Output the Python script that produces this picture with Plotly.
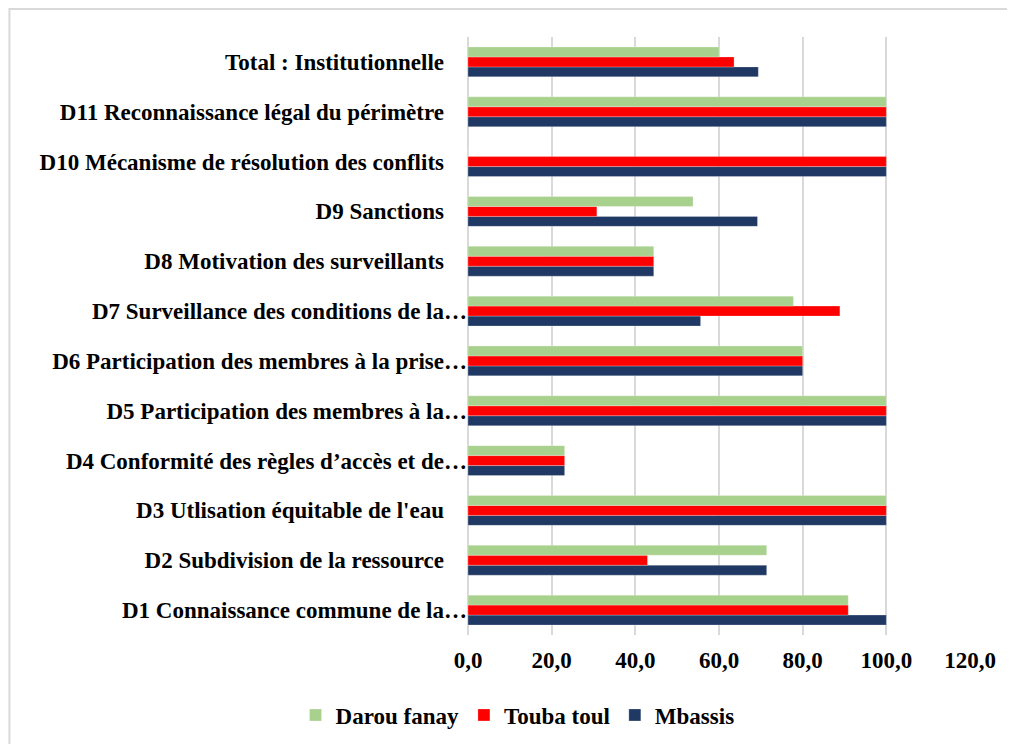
import plotly.graph_objects as go

categories = [
    "D1 Connaissance commune de la…",
    "D2 Subdivision de la ressource",
    "D3 Utlisation équitable de l'eau",
    "D4 Conformité des règles d’accès et de…",
    "D5 Participation des membres à la…",
    "D6 Participation des membres à la prise…",
    "D7 Surveillance des conditions de la…",
    "D8 Motivation des surveillants",
    "D9 Sanctions",
    "D10 Mécanisme de résolution des conflits",
    "D11 Reconnaissance légal du périmètre",
    "Total : Institutionnelle",
]
darou_fanay = [90.9, 71.4, 100, 23.1, 100, 80, 77.8, 44.4, 53.8, 0, 100, 60.0]
touba_toul = [90.9, 42.9, 100, 23.1, 100, 80, 88.9, 44.4, 30.8, 100, 100, 63.6]
mbassis = [100, 71.4, 100, 23.1, 100, 80, 55.6, 44.4, 69.2, 100, 100, 69.4]
x_ticks = [0, 20, 40, 60, 80, 100, 120]
x_tick_labels = ["0,0", "20,0", "40,0", "60,0", "80,0", "100,0", "120,0"]

FONT = "Liberation Serif"
FS = 23

# labels that are not truncated keep a little trailing space (as in the source)
y_tick_text = [c if c.endswith("…") else c + "\u00a0" * 4 for c in categories]

fig = go.Figure()
for name, vals, col in [
    ("Mbassis", mbassis, "#203864"),
    ("Touba toul", touba_toul, "#FF0000"),
    ("Darou fanay", darou_fanay, "#A9D18E"),
]:
    fig.add_trace(go.Bar(
        y=categories, x=vals, name=name, orientation="h",
        marker=dict(color=col, line=dict(color="rgba(255,255,255,0.5)", width=0.5)),
    ))

W, H = 1007, 736  # page body has an 8px margin
L, T = 459.5, 29
R = W - 962
B = H - 627

fig.update_layout(
    width=W, height=H,
    barmode="group", bargap=0.4, bargroupgap=0,
    paper_bgcolor="white", plot_bgcolor="white",
    font=dict(family=FONT, size=FS, color="black", weight="bold"),
    margin=dict(l=L, r=R, t=T, b=B, autoexpand=False),
    showlegend=True,
    legend=dict(
        orientation="h", traceorder="reversed",
        xref="container", yref="container",
        x=0.506, y=0.0394, xanchor="center", yanchor="middle",
        font=dict(family=FONT, size=FS, color="black", weight="bold"),
    ),
    xaxis=dict(
        range=[0, 120], tickvals=x_ticks, ticktext=x_tick_labels,
        showgrid=True, gridcolor="#d9d9d9", gridwidth=2,
        zeroline=True, zerolinecolor="#d9d9d9", zerolinewidth=2,
        showline=False, ticks="", ticklabelstandoff=9,
        fixedrange=True,
    ),
    yaxis=dict(
        type="category", showgrid=False, ticks="", showline=False,
        tickvals=categories, ticktext=y_tick_text,
        ticklabelstandoff=0, automargin=False,
    ),
    shapes=[dict(
        type="rect", xref="paper", yref="paper",
        x0=(0.5 - L) / (962 - L), x1=1.3, y0=-0.3, y1=(627 - 1) / 598,
        line=dict(color="#d9d9d9", width=2), fillcolor="rgba(0,0,0,0)", layer="below",
    )],
)

fig.write_html("out.html")
